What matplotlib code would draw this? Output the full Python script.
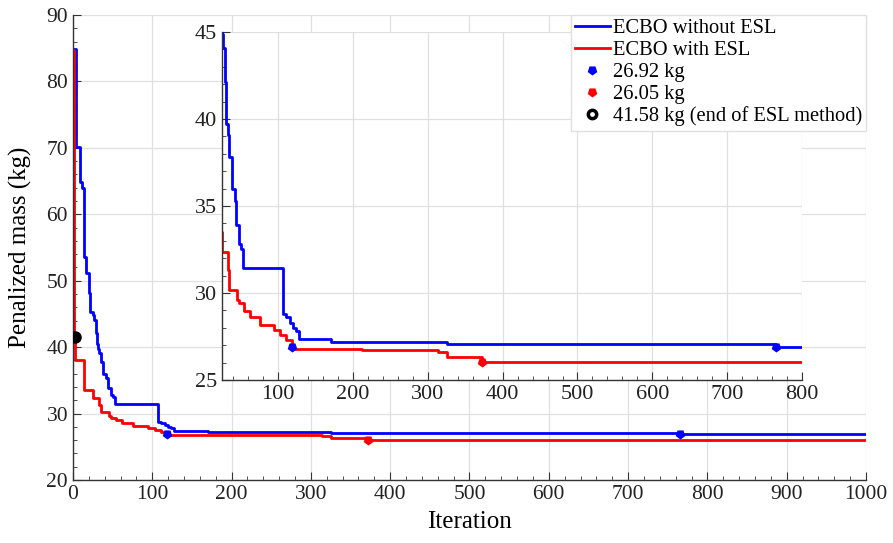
import matplotlib.pyplot as plt
from matplotlib.ticker import MultipleLocator
from matplotlib.lines import Line2D

plt.rcParams['font.family'] = ['Liberation Serif', 'DejaVu Serif']

# step data (iteration, penalized mass)
blue_iter = [0, 4, 9, 12, 14, 17, 20, 22, 25, 27, 29, 30, 31, 33, 35, 38, 42, 44, 48, 51, 53,
             107, 111, 116, 120, 124, 128, 170, 326, 765, 1000]
blue_mass = [84.9, 70.2, 64.9, 63.9, 53.6, 51.1, 48.1, 45.3, 44.9, 44.1, 42.1, 40.5, 39.7, 39.1,
             37.8, 36.0, 35.3, 33.9, 32.8, 32.5, 31.45, 28.8, 28.6, 28.3, 28.0, 27.8, 27.35,
             27.2, 27.07, 26.92, 26.92]

red_iter = [0, 1, 3, 14, 25, 33, 35, 45, 48, 54, 62, 76, 94, 103, 111, 119, 212, 314, 326, 372, 1000]
red_mass = [84.7, 41.58, 38.1, 33.5, 32.35, 31.3, 30.2, 29.6, 29.4, 28.97, 28.6, 28.15, 27.9,
            27.6, 27.3, 26.8, 26.75, 26.6, 26.33, 26.05, 26.05]

blue_mark_x = [119, 765]
blue_mark_y = [26.92, 26.92]
red_mark_x = [372]
red_mark_y = [26.05]
esl_x = [2]
esl_y = [41.58]

labels = ["ECBO without ESL", "ECBO with ESL", "26.92 kg", "26.05 kg",
          "41.58 kg (end of ESL method)"]

tri = (5, 0, 180)
dark = '#333333'


def style(ax, fs):
    ax.grid(True, which='major', color='#e0e0e0', lw=0.9)
    ax.set_axisbelow(True)
    for s in ['top', 'right']:
        ax.spines[s].set_visible(False)
    for s in ['left', 'bottom']:
        ax.spines[s].set_color(dark)
        ax.spines[s].set_linewidth(1.0)
    ax.tick_params(which='both', direction='in', colors=dark, labelsize=fs, labelcolor='#222222')
    ax.tick_params(which='major', length=6)
    ax.tick_params(which='minor', length=3)


fig = plt.figure(figsize=(8.93, 5.43), dpi=100)

ax = fig.add_axes([0.0817, 0.116, 0.8881, 0.8564])
ax.step(blue_iter, blue_mass, where='post', color='blue', lw=2)
ax.step(red_iter, red_mass, where='post', color='red', lw=2)
ax.plot(blue_mark_x, blue_mark_y, ls='none', marker=tri, color='blue', ms=6)
ax.plot(red_mark_x, red_mark_y, ls='none', marker=tri, color='red', ms=6)
ax.plot(esl_x, esl_y, ls='none', marker='o', color='black', ms=8, zorder=5)
ax.set_xlim(0, 1000)
ax.set_ylim(20, 90)
ax.xaxis.set_major_locator(MultipleLocator(100))
ax.xaxis.set_minor_locator(MultipleLocator(20))
ax.yaxis.set_major_locator(MultipleLocator(10))
ax.yaxis.set_minor_locator(MultipleLocator(2))
style(ax, 15.5)
ax.set_xlabel("Iteration", fontsize=18, labelpad=5)
ax.set_ylabel("Penalized mass (kg)", fontsize=18, labelpad=10)

ins = fig.add_axes([0.2486, 0.3002, 0.6495, 0.6409])
ins.step(blue_iter, blue_mass, where='post', color='blue', lw=2)
ins.step(red_iter, red_mass, where='post', color='red', lw=2)
ins.plot(blue_mark_x, blue_mark_y, ls='none', marker=tri, color='blue', ms=6)
ins.plot(red_mark_x, red_mark_y, ls='none', marker=tri, color='red', ms=6)
ins.set_xlim(25, 800)
ins.set_ylim(25, 45)
ins.xaxis.set_major_locator(MultipleLocator(100))
ins.xaxis.set_minor_locator(MultipleLocator(20))
ins.yaxis.set_major_locator(MultipleLocator(5))
ins.yaxis.set_minor_locator(MultipleLocator(1))
style(ins, 16)
ins.set_xticks([100, 200, 300, 400, 500, 600, 700, 800])

handles = [
    Line2D([], [], color='blue', lw=2),
    Line2D([], [], color='red', lw=2),
    Line2D([], [], ls='none', marker=tri, color='blue', ms=6),
    Line2D([], [], ls='none', marker=tri, color='red', ms=6),
    Line2D([], [], ls='none', marker='o', mfc='white', mec='black', mew=2.5, ms=6),
]
leg = fig.legend(handles, labels, loc='upper right', bbox_to_anchor=(0.9698, 0.9724),
                 fontsize=14.8, frameon=True, fancybox=False, edgecolor='#e0e0e0',
                 framealpha=1, handlelength=1.7, handletextpad=0.15, borderpad=0.2,
                 labelspacing=0.12, borderaxespad=0.0)
leg.set_zorder(10)

fig.savefig("out.png", dpi=100)
